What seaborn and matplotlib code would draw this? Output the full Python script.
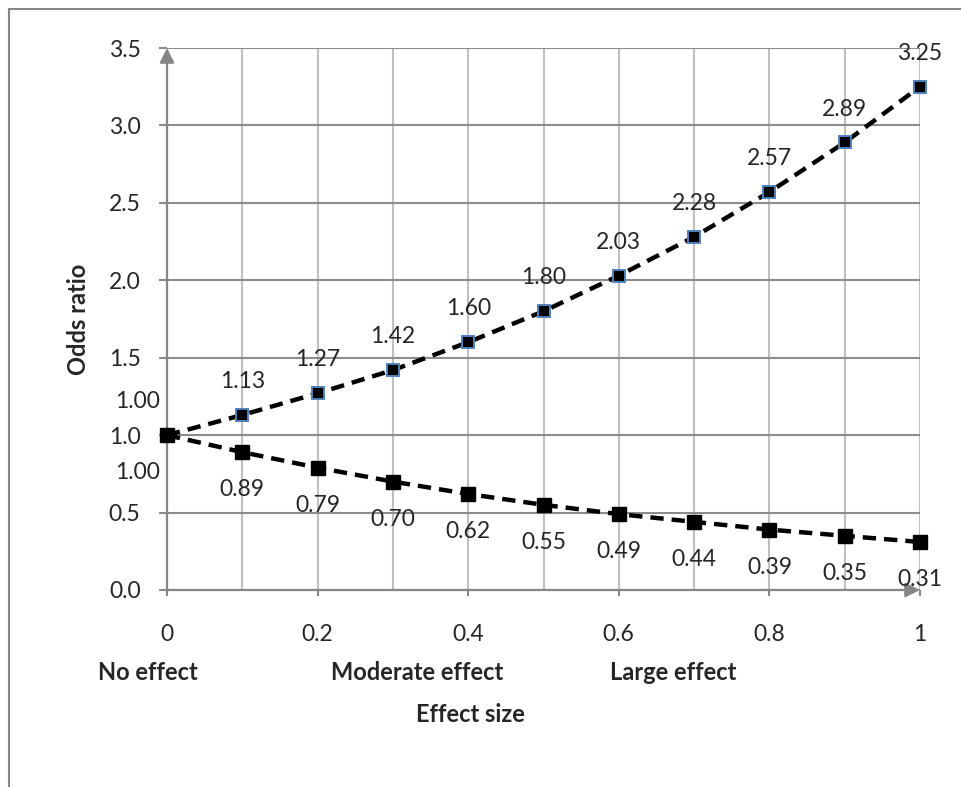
import numpy as np
import pandas as pd
import matplotlib.pyplot as plt
import matplotlib.patches as mpatches
import matplotlib.transforms as mtransforms
from matplotlib.ticker import MultipleLocator, FormatStrFormatter
import seaborn as sns

effect_size = [0, 0.1, 0.2, 0.3, 0.4, 0.5, 0.6, 0.7, 0.8, 0.9, 1.0]
odds_up = [1.00, 1.13, 1.27, 1.42, 1.60, 1.80, 2.03, 2.28, 2.57, 2.89, 3.25]
odds_down = [1.00, 0.89, 0.79, 0.70, 0.62, 0.55, 0.49, 0.44, 0.39, 0.35, 0.31]
x_ticks = [0, 0.2, 0.4, 0.6, 0.8, 1.0]
x_ticklabels = ["0", "0.2", "0.4", "0.6", "0.8", "1"]
effect_labels = ["No effect", "Moderate effect", "Large effect"]
effect_label_x = [-0.025, 0.332, 0.672]

sns.set_style("white")
plt.rcParams["font.family"] = ["Lato", "DejaVu Sans"]

grid_h = "#8c8c8c"
grid_v = "#c0c0c0"
axis_gray = "#868686"
fs = 16.5

fig = plt.figure(figsize=(9.62, 7.87), dpi=100)
ax = fig.add_axes([167 / 962, 1 - 590 / 787, 753 / 962, 542 / 787])

# outer frame (only top and left visible in the crop)
fig.patches.append(mpatches.Rectangle((9 / 962, -0.2), 2, 1.2 - 9 / 787, fill=False,
                                      edgecolor=axis_gray, lw=1.5, transform=fig.transFigure))

df = pd.DataFrame({"effect": effect_size, "up": odds_up, "down": odds_down})

sns.lineplot(data=df, x="effect", y="up", ax=ax, color="black", lw=3.2,
             linestyle=(0, (3.0, 1.8)), marker="s", markersize=9,
             markerfacecolor="black", markeredgecolor="#4f81bd", markeredgewidth=1.4,
             clip_on=False, zorder=4)
sns.lineplot(data=df, x="effect", y="down", ax=ax, color="black", lw=3.2,
             linestyle=(0, (3.0, 1.8)), marker="s", markersize=10.5,
             markerfacecolor="black", markeredgecolor="black", markeredgewidth=1,
             clip_on=False, zorder=5)

for i, (x, u, d) in enumerate(zip(effect_size, odds_up, odds_down)):
    dx = -21 if i == 0 else 0
    ax.annotate(f"{u:.2f}", (x, u), xytext=(dx, 24), textcoords="offset points",
                ha="center", va="center", fontsize=fs, zorder=6)
    ax.annotate(f"{d:.2f}", (x, d), xytext=(dx, -27), textcoords="offset points",
                ha="center", va="center", fontsize=fs, zorder=6)

ax.set_xticks(x_ticks)
ax.set_xticklabels(x_ticklabels)
ax.xaxis.set_minor_locator(MultipleLocator(0.1))
ax.yaxis.set_major_locator(MultipleLocator(0.5))
ax.yaxis.set_major_formatter(FormatStrFormatter("%.1f"))
ax.set_xlim(0, 1)
ax.set_ylim(0, 3.5)

ax.grid(which="major", axis="y", color=grid_h, lw=1.5)
ax.grid(which="both", axis="x", color=grid_v, lw=1.5)
ax.tick_params(axis="y", which="major", length=6, width=1.5, color=grid_h,
               labelsize=fs, pad=13, left=True)
ax.tick_params(axis="x", which="major", length=4.5, width=1.5, color=axis_gray,
               labelsize=fs, pad=20, bottom=True)
ax.tick_params(axis="x", which="minor", length=0)
for s in ax.spines.values():
    s.set_visible(False)

# axis arrows
ax.annotate("", xy=(0, 3.5), xytext=(0, 0),
            arrowprops=dict(arrowstyle="-|>", color=axis_gray, lw=1.6,
                            mutation_scale=22, shrinkA=0, shrinkB=0), zorder=3)
ax.annotate("", xy=(1, 0), xytext=(0, 0),
            arrowprops=dict(arrowstyle="-|>", color=axis_gray, lw=1.6,
                            mutation_scale=22, shrinkA=0, shrinkB=0), zorder=3)

ax.set_xlabel("")
ax.set_ylabel("Odds ratio", fontsize=17, fontweight="bold")
ax.yaxis.set_label_coords((90 - 167) / 753, 0.5)

blend = mtransforms.blended_transform_factory(ax.transData, fig.transFigure)
for lab, lx in zip(effect_labels, effect_label_x):
    ax.text(lx, 1 - 672 / 787, lab, transform=blend,
            ha="center", va="center", fontsize=17, fontweight="bold")

fig.text(470 / 962, 1 - 715 / 787, "Effect size", ha="center", va="center",
         fontsize=17, fontweight="bold")

fig.savefig("out.png", dpi=100)
